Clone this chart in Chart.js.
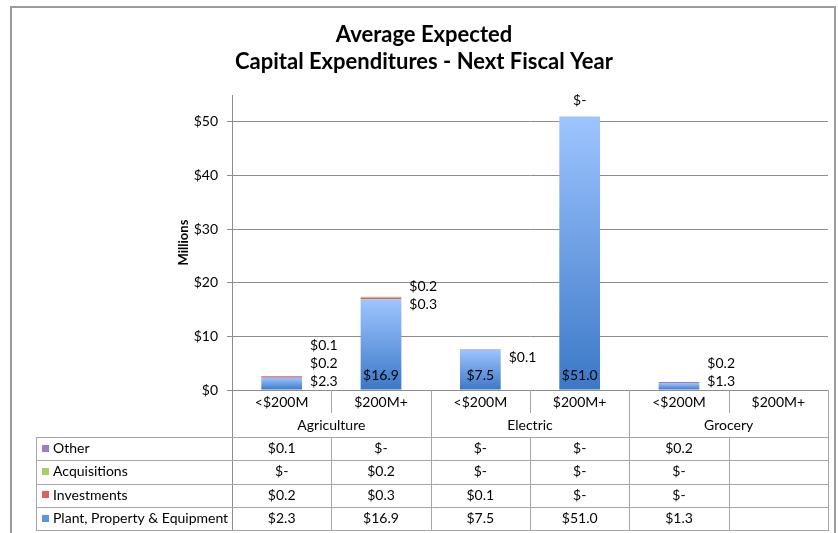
<!DOCTYPE html>
<html>
<head>
<meta charset="utf-8">
<title>Average Expected Capital Expenditures - Next Fiscal Year</title>
<script src="https://cdn.jsdelivr.net/npm/chart.js@4.4.0/dist/chart.umd.min.js"></script>
<style>
    html, body { margin: 0; padding: 0; background: #fff; }
    #capexChart { display: block; }
</style>
</head>
<body>
<canvas id="capexChart" width="838" height="533"></canvas>
<script>
// data (millions of dollars)
const CATEGORIES = ["<$200M", "$200M+", "<$200M", "$200M+", "<$200M", "$200M+"];
const GROUPS = ["Agriculture", "Electric", "Grocery"];
const PLANT = [2.3, 16.9, 7.5, 51.0, 1.3, null];
const INVESTMENTS = [0.2, 0.3, 0.1, 0, 0, null];
const ACQUISITIONS = [0, 0.2, 0, 0, 0, null];
const OTHER = [0.1, 0, 0, 0, 0.2, null];
const Y_TICKS = [0, 10, 20, 30, 40, 50];
const Y_MAX = 55;

const TITLE_LINES = ["Average Expected", "Capital Expenditures - Next Fiscal Year"];

const FONT = "Lato";
const TEXT_COLOR = "#000000";
const AXIS_COLOR = "#8C8C8C";
const TABLE_LINE_COLOR = "#A6A6A6";
const FRAME_COLOR = "#9C9C9C";

const SERIES = [
    {name: "Plant, Property & Equipment", data: PLANT, color: "#5B95E3"},
    {name: "Investments", data: INVESTMENTS, color: "#E0605E"},
    {name: "Acquisitions", data: ACQUISITIONS, color: "#A8CF62"},
    {name: "Other", data: OTHER, color: "#9A7CC8"},
];

const TABLE_LEFT = 36;
const TABLE_TOP = 437;
const TABLE_ROW_H = 23.3;

function money(v) {
    if (v === null || v === undefined) return "";
    if (v === 0) return "$-";
    return "$" + v.toFixed(1);
}

function crisp(v) {
    return Math.round(v) + 0.5;
}

function plantFill(context) {
    const chart = context.chart;
    const y = chart.scales.y;
    if (context.type !== "data" || !y || !chart.chartArea) return SERIES[0].color;
    const v = PLANT[context.dataIndex] || 0;
    const top = y.getPixelForValue(v);
    const bottom = y.getPixelForValue(0);
    if (bottom - top < 1) return SERIES[0].color;
    const g = chart.ctx.createLinearGradient(0, top, 0, bottom);
    g.addColorStop(0, "#9EC5FF");
    g.addColorStop(1, "#3B78C6");
    return g;
}

function line(ctx, x1, y1, x2, y2) {
    ctx.beginPath();
    ctx.moveTo(x1, y1);
    ctx.lineTo(x2, y2);
    ctx.stroke();
}

// value labels next to / inside the stacks, Excel style
const barLabelPlugin = {
    id: "barLabels",
    afterDatasetsDraw(chart) {
        const ctx = chart.ctx;
        const base = chart.chartArea.bottom;
        ctx.save();
        ctx.font = "14px " + FONT;
        ctx.fillStyle = TEXT_COLOR;
        ctx.textBaseline = "middle";

        for (let i = 0; i < CATEGORIES.length; i++) {
            if (PLANT[i] === null) continue;
            const plantBar = chart.getDatasetMeta(0).data[i];
            let top = plantBar.y;
            const rightItems = [];
            const plantInside = plantBar.base - plantBar.y > 30;

            if (plantInside) {
                ctx.textAlign = "center";
                ctx.fillText(money(PLANT[i]), plantBar.x, plantBar.base - 14);
            } else {
                rightItems.push(PLANT[i]);
            }
            for (let d = 1; d < SERIES.length; d++) {
                const v = SERIES[d].data[i];
                if (v > 0) {
                    rightItems.push(v);
                    top = Math.min(top, chart.getDatasetMeta(d).data[i].y);
                }
            }

            if (rightItems.length === 0) {
                ctx.textAlign = "center";
                ctx.fillText("$-", plantBar.x, top - 16);
                continue;
            }

            const y0 = plantInside ? top + 8 : Math.min(top + 5, base - 9);
            const x0 = plantBar.x + plantBar.width / 2 + 8;
            ctx.textAlign = "left";
            rightItems.forEach((v, k) => {
                ctx.fillText(money(v), x0, y0 - k * 18);
            });
        }
        ctx.restore();
    }
};

// title, outer frame, category rows and data table under the plot
const tablePlugin = {
    id: "dataTable",
    afterDraw(chart) {
        const ctx = chart.ctx;
        const area = chart.chartArea;
        const x = chart.scales.x;
        const step = x.getPixelForValue(1) - x.getPixelForValue(0);
        const colEdge = i => x.getPixelForValue(i) - step / 2;
        const tableBottom = TABLE_TOP + TABLE_ROW_H * SERIES.length;

        ctx.save();

        // outer frame
        ctx.strokeStyle = FRAME_COLOR;
        ctx.lineWidth = 2;
        ctx.strokeRect(11, 7, 824, 600);

        // title
        ctx.fillStyle = TEXT_COLOR;
        ctx.font = "bold 22px " + FONT;
        ctx.textAlign = "center";
        ctx.textBaseline = "middle";
        ctx.fillText(TITLE_LINES[0], 424, 35);
        ctx.fillText(TITLE_LINES[1], 424, 62);

        // axis line + vertical rules
        ctx.lineWidth = 1;
        ctx.strokeStyle = AXIS_COLOR;
        line(ctx, area.left, crisp(area.bottom), area.right + 1, crisp(area.bottom));
        line(ctx, crisp(area.left), area.bottom, crisp(area.left), tableBottom);

        ctx.strokeStyle = TABLE_LINE_COLOR;
        for (let i = 1; i <= CATEGORIES.length; i++) {
            const xe = crisp(colEdge(i));
            if (i % 2 === 0) {
                line(ctx, xe, area.bottom, xe, tableBottom);
            } else {
                line(ctx, xe, area.bottom, xe, area.bottom + 23);
                line(ctx, xe, TABLE_TOP, xe, tableBottom);
            }
        }

        // table horizontal lines
        for (let r = 0; r <= SERIES.length; r++) {
            const yy = crisp(TABLE_TOP + r * TABLE_ROW_H);
            line(ctx, TABLE_LEFT, yy, area.right + 1, yy);
        }
        line(ctx, crisp(TABLE_LEFT), TABLE_TOP, crisp(TABLE_LEFT), tableBottom);

        // category and group labels
        ctx.font = "14px " + FONT;
        ctx.fillStyle = TEXT_COLOR;
        ctx.textAlign = "center";
        CATEGORIES.forEach((c, i) => {
            ctx.fillText(c, x.getPixelForValue(i), area.bottom + 12);
        });
        GROUPS.forEach((g, k) => {
            const cx = (colEdge(k * 2) + colEdge(k * 2 + 2)) / 2;
            ctx.fillText(g, cx, area.bottom + 35);
        });

        // rows: top row is the top of the stack
        const rows = SERIES.slice().reverse();
        rows.forEach((s, r) => {
            const cy = TABLE_TOP + r * TABLE_ROW_H + TABLE_ROW_H / 2;
            ctx.fillStyle = s.color;
            ctx.fillRect(TABLE_LEFT + 6, Math.round(cy) - 4, 7, 7);
            ctx.fillStyle = TEXT_COLOR;
            ctx.textAlign = "left";
            ctx.fillText(s.name, TABLE_LEFT + 17, cy);
            ctx.textAlign = "center";
            s.data.forEach((v, i) => {
                ctx.fillText(money(v), x.getPixelForValue(i), cy);
            });
        });

        ctx.restore();
    }
};

const datasets = SERIES.map((s, d) => ({
    label: s.name,
    data: s.data,
    backgroundColor: d === 0 ? plantFill : s.color,
    borderWidth: 0,
    barPercentage: 0.41,
    categoryPercentage: 1.0,
}));

new Chart(document.getElementById("capexChart").getContext("2d"), {
    type: "bar",
    data: {
        labels: CATEGORIES,
        datasets: datasets,
    },
    options: {
        responsive: false,
        animation: false,
        devicePixelRatio: 1,
        layout: {
            padding: {top: 95, right: 10, bottom: 143, left: 0}
        },
        plugins: {
            legend: {display: false},
            title: {display: false},
            tooltip: {enabled: false},
        },
        scales: {
            x: {
                display: false,
                stacked: true,
            },
            y: {
                stacked: true,
                min: 0,
                max: Y_MAX,
                afterBuildTicks: scale => {
                    scale.ticks = Y_TICKS.map(v => ({value: v}));
                },
                afterFit: scale => {
                    scale.width = 232;
                },
                grid: {color: AXIS_COLOR, tickLength: 5, drawTicks: true},
                border: {color: AXIS_COLOR},
                ticks: {
                    padding: 9,
                    color: TEXT_COLOR,
                    font: {family: FONT, size: 14},
                    callback: v => "$" + v,
                },
                title: {
                    display: true,
                    text: "Millions",
                    color: TEXT_COLOR,
                    font: {family: FONT, size: 13, weight: "bold"},
                    padding: {top: 176, bottom: 0},
                },
            },
        },
    },
    plugins: [barLabelPlugin, tablePlugin],
});
</script>
</body>
</html>
